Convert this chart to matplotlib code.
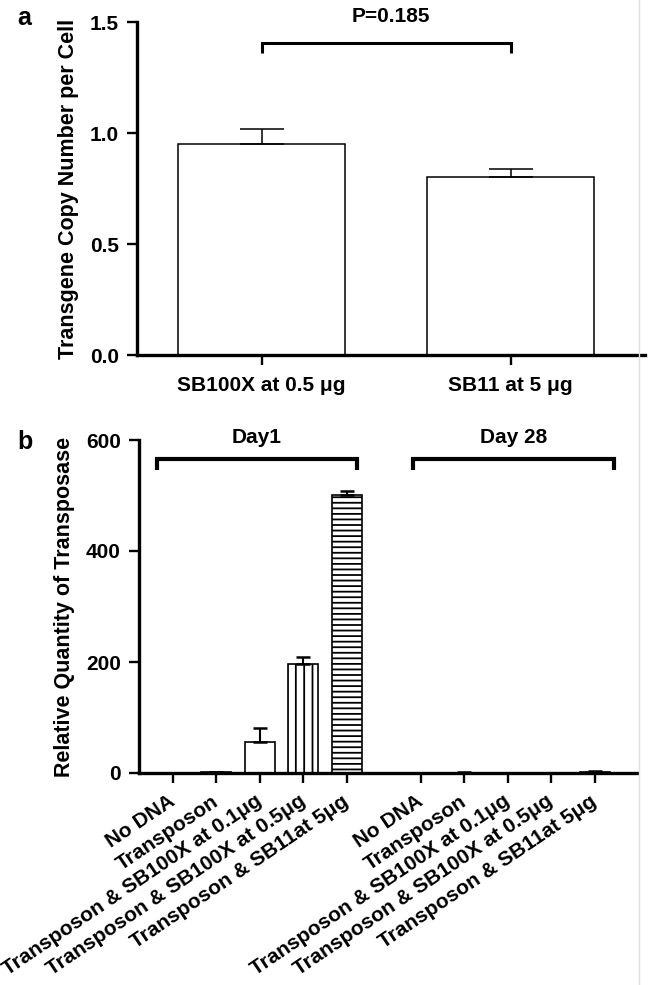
import matplotlib
matplotlib.use("Agg")
import matplotlib.pyplot as plt
from matplotlib.lines import Line2D
import numpy as np

plt.rcParams['font.family'] = ['Liberation Sans', 'DejaVu Sans']
plt.rcParams['font.weight'] = 'bold'
plt.rcParams['hatch.linewidth'] = 1.3

FONTSIZE = 15
FONTSIZE_LABEL = 15.5
SPINE_LW = 2.4

# panel a data
a_labels = ['SB100X at 0.5 \u03bcg', 'SB11 at 5 \u03bcg']
a_means = [0.95, 0.80]
a_err = [0.068, 0.036]
a_pvalue = 'P=0.185'

# panel b data
b_labels = ['No DNA', 'Transposon', 'Transposon & SB100X at 0.1\u03bcg',
            'Transposon & SB100X at 0.5\u03bcg', 'Transposon & SB11at 5\u03bcg']
b_hatches = ['', '', '', '||', '---']
day1_means = [0, 1, 56, 196, 501]
day1_err = [0, 1.5, 25, 13, 7]
day28_means = [0, 0.5, 0, 0, 1.5]
day28_err = [0, 1, 0, 0, 2]
group_names = ['Day1', 'Day 28']


def style_axis(ax):
    for side in ['top', 'right']:
        ax.spines[side].set_visible(False)
    for side in ['left', 'bottom']:
        ax.spines[side].set_linewidth(SPINE_LW)
    ax.tick_params(axis='both', which='major', labelsize=FONTSIZE,
                   length=7, width=1.7, pad=6)
    for lbl in ax.get_xticklabels() + ax.get_yticklabels():
        lbl.set_fontweight('bold')


fig = plt.figure(figsize=(6.48, 9.85), dpi=100)
W, H = 648.0, 985.0

# ---- panel a ----
ax1 = fig.add_axes([137 / W, 1 - 355 / H, 508 / W, 333 / H])
xa = np.arange(len(a_means))
ax1.bar(xa, a_means, width=0.67, color='white', edgecolor='black', linewidth=1.1, zorder=2)
ax1.errorbar(xa, a_means, yerr=[np.zeros(len(a_err)), a_err], fmt='none',
             ecolor='black', elinewidth=1.1, capsize=15.5, capthick=1.1, zorder=3)
ax1.set_xlim(-0.5, 1.54)
ax1.set_ylim(0, 1.5)
ax1.set_yticks([0.0, 0.5, 1.0, 1.5])
ax1.set_yticklabels(['0.0', '0.5', '1.0', '1.5'])
ax1.set_xticks(xa)
ax1.set_xticklabels(a_labels)
ax1.set_ylabel('Transgene Copy Number per Cell', fontsize=FONTSIZE_LABEL, fontweight='bold', labelpad=8)
style_axis(ax1)
ax1.tick_params(axis='x', pad=8)

# significance bracket
ax1.plot([0, 0, 1, 1], [1.36, 1.405, 1.405, 1.36], color='black', lw=2.2,
         clip_on=False, solid_capstyle='butt', solid_joinstyle='miter')
ax1.text(0.52, 1.527, a_pvalue, ha='center', va='center', fontsize=FONTSIZE,
         fontweight='bold', clip_on=False)

# ---- panel b ----
ax2 = fig.add_axes([139 / W, 1 - 773 / H, 498 / W, 333 / H])
gap = 5.7
x1 = np.arange(len(day1_means))
x2 = x1 + gap
for xs, means, errs in [(x1, day1_means, day1_err), (x2, day28_means, day28_err)]:
    for x, m, e, h in zip(xs, means, errs, b_hatches):
        ax2.bar(x, m, width=0.69, color='white', edgecolor='black',
                linewidth=1.2, hatch=h, zorder=2)
        if e > 0:
            ax2.errorbar(x, m, yerr=[[0], [e]], fmt='none', ecolor='black',
                         elinewidth=1.5, capsize=5, capthick=1.8, zorder=3)

ax2.set_xlim(-0.78, 10.67)
ax2.set_ylim(0, 600)
ax2.set_yticks([0, 200, 400, 600])
ax2.set_xticks(np.concatenate([x1, x2]))
ax2.set_xticklabels(b_labels + b_labels, rotation=34, ha='right',
                    rotation_mode='anchor', va='center')
ax2.set_ylabel('Relative Quantity of Transposase', fontsize=FONTSIZE_LABEL, fontweight='bold', labelpad=8)
style_axis(ax2)
ax2.tick_params(axis='x', pad=12)

# group brackets
for (lo, hi), name in zip([(-0.37, 4.23), (5.52, 10.14)], group_names):
    ax2.plot([lo, lo, hi, hi], [546, 566, 566, 546], color='black', lw=3,
             clip_on=False, solid_capstyle='butt', solid_joinstyle='miter')
    ax2.text((lo + hi) / 2, 605, name, ha='center', va='center',
             fontsize=FONTSIZE, fontweight='bold', clip_on=False)

# panel letters
fig.text(17 / W, 1 - 18 / H, 'a', fontsize=18, fontweight='bold', ha='left', va='center')
fig.text(17 / W, 1 - 442 / H, 'b', fontsize=18, fontweight='bold', ha='left', va='center')

# faint border line at the right edge
fig.add_artist(Line2D([639 / W, 639 / W], [0.0, 1.0], color='#e0e0e0', lw=1))

fig.savefig('out.png', dpi=100)
